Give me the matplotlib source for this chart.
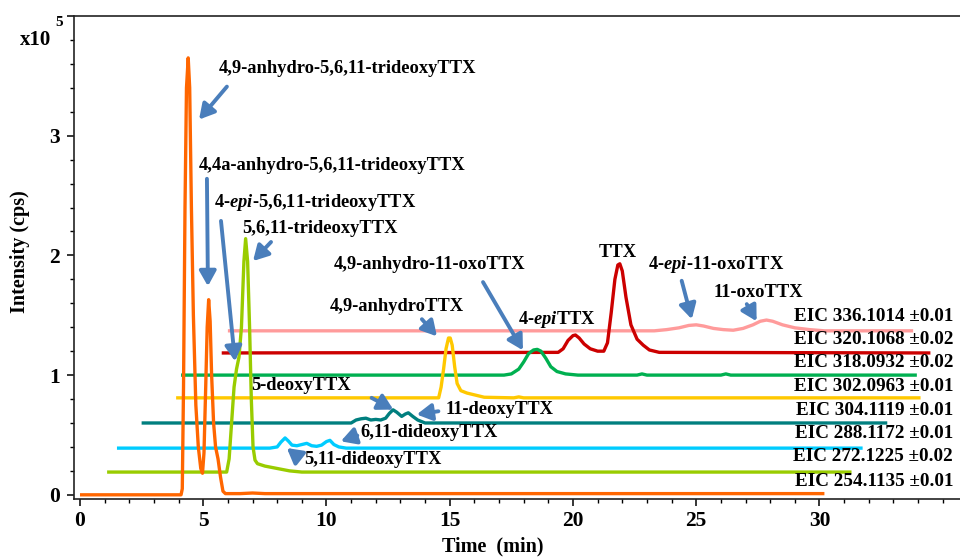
import matplotlib
matplotlib.use("Agg")
import matplotlib.pyplot as plt
from matplotlib.ticker import MultipleLocator

plt.rcParams['font.family'] = ['Liberation Serif', 'DejaVu Serif']
plt.rcParams['font.weight'] = 'bold'
plt.rcParams['mathtext.fontset'] = 'custom'
plt.rcParams['mathtext.rm'] = 'Liberation Serif:bold'
plt.rcParams['mathtext.it'] = 'Liberation Serif:italic:bold'

# ---------------- data (time in min, intensity in 1e5 cps incl. offset) -------------
t_254 = [0, 4.1, 4.15, 4.2, 4.26, 4.32, 4.39, 4.45, 4.52, 4.6, 4.7, 4.8, 4.9, 4.97, 5.03,
         5.1, 5.16, 5.22, 5.28, 5.34, 5.42, 5.5, 5.6, 5.7, 5.8, 5.9, 6.5, 7.0, 7.5, 30.2]
y_254 = [0, 0, 0.05, 0.9, 2.4, 3.4, 3.65, 3.4, 2.4, 1.5, 0.75, 0.4, 0.22, 0.18, 0.35,
         0.9, 1.4, 1.63, 1.45, 1.0, 0.6, 0.4, 0.3, 0.15, 0.03, 0.01, 0.01, 0.015, 0.01, 0.01]

t_272 = [1.1, 5.95, 6.05, 6.15, 6.25, 6.35, 6.45, 6.55, 6.65, 6.72, 6.8, 6.88, 6.95, 7.02,
         7.1, 7.2, 7.5, 8.0, 8.5, 9.0, 31.3]
y_272 = [0.19, 0.19, 0.3, 0.6, 0.9, 1.05, 1.15, 1.4, 1.95, 2.14, 1.95, 1.4, 0.8, 0.4,
         0.29, 0.26, 0.24, 0.22, 0.2, 0.19, 0.19]

t_288 = [1.5, 7.7, 8.0, 8.15, 8.32, 8.45, 8.6, 8.8, 9.0, 9.2, 9.4, 9.6, 9.8, 10.0, 10.14,
         10.3, 10.5, 10.8, 31.75]
y_288 = [0.39, 0.39, 0.40, 0.44, 0.475, 0.45, 0.415, 0.41, 0.42, 0.43, 0.41, 0.405, 0.415,
         0.445, 0.455, 0.42, 0.40, 0.39, 0.39]

t_304 = [2.5, 11.0, 11.2, 11.4, 11.6, 11.8, 12.0, 12.2, 12.4, 12.55, 12.7, 12.85, 13.05,
         13.2, 13.32, 13.5, 13.7, 14.0, 32.75]
y_304 = [0.6, 0.6, 0.625, 0.635, 0.64, 0.625, 0.63, 0.625, 0.64, 0.68, 0.71, 0.69, 0.655,
         0.675, 0.685, 0.655, 0.625, 0.6, 0.6]

t_302 = [3.9, 14.55, 14.65, 14.75, 14.85, 14.95, 15.02, 15.1, 15.2, 15.3, 15.45, 15.7, 16.0,
         16.4, 17.6, 17.8, 18.0, 34.1]
y_302 = [0.81, 0.81, 0.9, 1.05, 1.22, 1.31, 1.31, 1.25, 1.07, 0.93, 0.87, 0.85, 0.835,
         0.815, 0.81, 0.818, 0.81, 0.81]

t_318 = [4.1, 17.2, 17.5, 17.8, 18.0, 18.2, 18.4, 18.55, 18.7, 18.9, 19.1, 19.35, 19.7,
         20.2, 22.6, 22.8, 23.0, 26.0, 26.2, 26.4, 33.95]
y_318 = [1.0, 1.0, 1.01, 1.05, 1.11, 1.18, 1.21, 1.215, 1.2, 1.14, 1.07, 1.03, 1.01,
         1.0, 1.0, 1.01, 1.0, 1.0, 1.01, 1.0, 1.0]

t_320 = [5.75, 19.4, 19.6, 19.8, 20.0, 20.1, 20.25, 20.45, 20.7, 21.0, 21.25, 21.4, 21.55,
         21.7, 21.82, 21.9, 22.0, 22.15, 22.35, 22.6, 22.85, 23.1, 23.5, 34.5]
y_320 = [1.185, 1.19, 1.22, 1.29, 1.33, 1.335, 1.31, 1.26, 1.22, 1.2, 1.2, 1.27, 1.52,
         1.8, 1.92, 1.93, 1.87, 1.65, 1.42, 1.3, 1.25, 1.21, 1.19, 1.185]

t_336 = [6.0, 23.3, 23.8, 24.3, 24.7, 25.0, 25.3, 25.7, 26.1, 26.5, 26.9, 27.3, 27.6,
         27.85, 28.1, 28.5, 29.0, 29.6, 30.2, 33.8]
y_336 = [1.37, 1.37, 1.38, 1.395, 1.415, 1.42, 1.41, 1.39, 1.38, 1.375, 1.39, 1.42, 1.45,
         1.46, 1.45, 1.42, 1.395, 1.38, 1.37, 1.37]

eic_labels = ["EIC 336.1014\u00b10.01", "EIC 320.1068\u00b10.02", "EIC 318.0932\u00b10.02",
              "EIC 302.0963\u00b10.01", "EIC 304.1119\u00b10.01", "EIC 288.1172\u00b10.01",
              "EIC 272.1225\u00b10.02", "EIC 254.1135\u00b10.01"]
eic_label_y = [1.492, 1.299, 1.104, 0.908, 0.702, 0.511, 0.316, 0.111]

x_ticks = [0, 5, 10, 15, 20, 25, 30]
y_ticks = [0, 1, 2, 3, 4]
y_ticklabels = ['0', '1', '2', '3', '']

# compound annotations: (text, text_x, text_y, arrow tail, arrow head)
compounds = [
    ("4,9-anhydro-5,6,11-trideoxyTTX", 5.64, 3.562, (5.96, 3.41), (4.83, 3.135)),
    ("4,4a-anhydro-5,6,11-trideoxyTTX", 4.80, 2.752, (5.15, 2.64), (5.19, 1.743)),
    ("4-$\\mathit{epi}$-5,6,11-trideoxyTTX", 5.44, 2.445, (5.72, 2.288), (6.29, 1.115)),
    ("5,6,11-trideoxyTTX", 6.56, 2.221, (7.75, 2.112), (7.02, 1.953)),
    ("4,9-anhydro-11-oxoTTX", 10.28, 1.928, (16.35, 1.777), (17.97, 1.207)),
    ("4,9-anhydroTTX", 10.14, 1.576, (13.87, 1.467), (14.48, 1.324)),
    ("4-$\\mathit{epi}$TTX", 17.77, 1.467, None, None),
    ("TTX", 21.05, 2.028, None, None),
    ("4-$\\mathit{epi}$-11-oxoTTX", 23.05, 1.928, (24.41, 1.788), (24.82, 1.467)),
    ("11-oxoTTX", 25.69, 1.691, (27.05, 1.593), (27.45, 1.45)),
    ("5-deoxyTTX", 6.94, 0.914, (11.83, 0.81), (12.71, 0.712)),
    ("11-deoxyTTX", 14.85, 0.712, (14.54, 0.698), (13.66, 0.671)),
    ("6,11-dideoxyTTX", 11.39, 0.517, (11.25, 0.495), (10.58, 0.447)),
    ("5,11-dideoxyTTX", 9.1, 0.293, (8.86, 0.315), (8.39, 0.391)),
]

# ---------------- figure -------------
fig = plt.figure(figsize=(9.6, 5.57), dpi=100)
W, H = 960, 557
left_px, right_px, top_px, bot_px = 74, 969.6, 16, 499
ax = fig.add_axes([left_px / W, 1 - bot_px / H, (right_px - left_px) / W, (bot_px - top_px) / H])

series = [
    (t_336, y_336, '#FF9B9B'),
    (t_320, y_320, '#CC0000'),
    (t_318, y_318, '#00B050'),
    (t_302, y_302, '#FFC800'),
    (t_304, y_304, '#007F7F'),
    (t_288, y_288, '#00CCFF'),
    (t_272, y_272, '#99CC00'),
    (t_254, y_254, '#FF6600'),
]
for t, y, c in series:
    ax.plot(t, y, color=c, lw=2.4, solid_joinstyle='round', solid_capstyle='butt', zorder=3)

ax.set_xlim(-0.243, 36.09)
ax.set_ylim(-0.035, 4.0)

ax.spines['right'].set_visible(False)
for s in ['left', 'bottom', 'top']:
    ax.spines[s].set_linewidth(1.2)
    ax.spines[s].set_color('#222222')

ax.set_xticks(x_ticks)
ax.xaxis.set_minor_locator(MultipleLocator(1))
ax.set_yticks(y_ticks)
ax.set_yticklabels(y_ticklabels)
ax.yaxis.set_minor_locator(MultipleLocator(0.2))
ax.tick_params(axis='both', which='major', length=5, width=1.1, labelsize=15.5, direction='out')
ax.tick_params(axis='both', which='minor', length=3, width=1.0, direction='out')
ax.tick_params(axis='y', pad=5)
ax.tick_params(axis='x', pad=4)
ax.tick_params(top=False, right=False)
for lab in ax.get_xticklabels() + ax.get_yticklabels():
    lab.set_fontweight('bold')

fig.text(493 / W, 1 - 546 / H, "Time  (min)", ha='center', va='center', fontsize=14.5, fontweight='bold')
fig.text(20 / W, 1 - 252 / H, "Intensity (cps)", ha='center', va='center', rotation=90,
         fontsize=14.5, fontweight='bold')
fig.text(36 / W, 1 - 40 / H, "x10", ha='center', va='center', fontsize=15, fontweight='bold')
fig.text(59 / W, 1 - 22 / H, "5", ha='center', va='center', fontsize=11, fontweight='bold')

arrow_color = '#4A7EBB'
for text, tx, ty, tail, head in compounds:
    ax.text(tx, ty, text, ha='left', va='center', fontsize=13.3, fontweight='bold', zorder=5)
    if tail is not None:
        ax.annotate('', xy=head, xytext=tail,
                    arrowprops=dict(arrowstyle='-|>,head_length=0.5,head_width=0.28',
                                    color=arrow_color, lw=2.8, shrinkA=0, shrinkB=0,
                                    mutation_scale=18),
                    zorder=6)

for lab, ly in zip(eic_labels, eic_label_y):
    ax.text(35.42, ly, lab.replace("\u00b1", " \u00b1"), ha='right', va='center', fontsize=13.8,
            fontweight='bold', zorder=5)

fig.savefig("out.png", dpi=100)
